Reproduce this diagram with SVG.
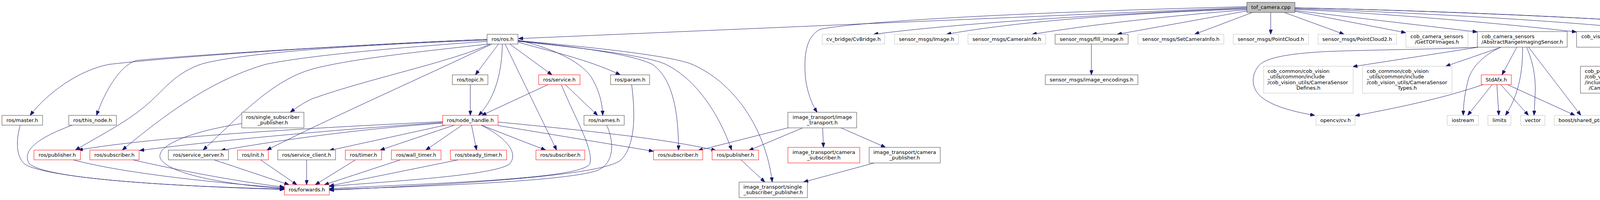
<svg xmlns="http://www.w3.org/2000/svg" width="4756" height="513" viewBox="0 0 4756 513">
<style>
rect{fill:#fff;stroke-width:1}
.d{stroke:#404040}.g{stroke:#bfbfbf}.r{stroke:#ff0000}.t{fill:#bfbfbf;stroke:#404040}
text{font-family:"DejaVu Sans","Liberation Sans",sans-serif;font-size:13px;fill:#000}
.m{text-anchor:middle}
#edges path{fill:none;stroke:#191970;stroke-width:1;marker-end:url(#a)}
</style>
<defs><marker id="a" viewBox="0 0 12 9" refX="12" refY="4.5" markerWidth="12" markerHeight="9" markerUnits="userSpaceOnUse" orient="auto"><path d="M0,0 L12,4.5 L0,9 z" fill="#191970" stroke="#191970" stroke-width="1"/></marker></defs>
<rect x="0" y="0" width="4756" height="513" style="fill:#fff;stroke:none"/>
<g id="edges">
<path d="M3192,19 L1327,99"/>
<path d="M3192,17 C2600,32 2200,55 2100,75 C2060,95 2058,150 2062,200 C2067,240 2080,270 2092,288"/>
<path d="M3192,21 C2800,38 2450,60 2236,88"/>
<path d="M3192,23 C2900,33 2600,55 2423,88"/>
<path d="M3192,25 C3000,40 2800,62 2642,88"/>
<path d="M3192,28 L2860,88"/>
<path d="M3206,32 L3058,88"/>
<path d="M3253,32 L3253,88"/>
<path d="M3288,32 L3441,88"/>
<path d="M3315,29 L3599,84"/>
<path d="M3315,27 L3782,82"/>
<path d="M3315,24 C3500,32 3800,55 4036,82"/>
<path d="M3315,22 C3700,35 4100,60 4325,88"/>
<path d="M3315,20 C3800,30 4300,55 4604,88"/>
<path d="M3315,20 C3800,30 4300,58 4480,74 C4530,80 4570,140 4588,192"/>
<path d="M2794,113 L2794,192"/>
<path d="M3785,121 C3700,126 3500,128 3400,132 C3300,137 3240,148 3223,168 C3200,195 3205,228 3228,248 C3260,275 3320,288 3366,296"/>
<path d="M3785,121 L3463,171"/>
<path d="M3843,121 L3701,170"/>
<path d="M3842,121 C3800,140 3770,170 3760,200 C3750,235 3746,270 3746,296"/>
<path d="M3883,121 L3845,192"/>
<path d="M3898,121 C3898,180 3890,240 3854,296"/>
<path d="M3908,121 C3925,160 3932,200 3930,240 C3929,262 3928,282 3927,296"/>
<path d="M3913,121 L4047,296"/>
<path d="M3797,217 C3700,250 3600,272 3469,297"/>
<path d="M3820,217 L3757,296"/>
<path d="M3832,217 L3837,296"/>
<path d="M3842,217 L3913,296"/>
<path d="M3859,217 L4032,296"/>
<path d="M4148,121 L4144,170"/>
<path d="M4188,121 L4287,170"/>
<path d="M4416,113 L4568,192"/>
<path d="M2106,328 L2108,378"/>
<path d="M2153,328 L2267,378"/>
<path d="M2017,328 L1787,386"/>
<path d="M2055,328 L1917,386"/>
<path d="M2238,418 L2057,467"/>
<path d="M1897,410 L1958,467"/>
<path d="M1276,113 L1217,192"/>
<path d="M1286,113 C1285,180 1270,250 1225,296"/>
<path d="M1293,113 L1425,385"/>
<path d="M1305,113 L1413,192"/>
<path d="M1326,108 C1400,130 1500,150 1588,192"/>
<path d="M1326,103 C1420,125 1490,160 1515,200 C1535,235 1542,265 1543,296"/>
<path d="M1326,105 C1480,120 1620,140 1670,165 C1720,200 1737,280 1737,385"/>
<path d="M1326,106 C1480,122 1640,140 1700,163 C1780,200 1840,290 1873,385"/>
<path d="M1326,104 C1500,120 1700,140 1767,163 C1880,210 1960,330 1977,467"/>
<path d="M1247,101 C1000,110 500,140 280,165 C200,180 120,240 77,296"/>
<path d="M1247,101 C1000,110 500,140 350,155 C310,165 270,230 247,296"/>
<path d="M1247,103 C1000,112 650,130 520,163 C450,185 420,230 380,265 C330,310 260,345 193,385"/>
<path d="M1247,106 C1050,120 800,140 680,165 C560,200 450,270 313,385"/>
<path d="M1250,113 C1100,130 900,150 800,177 C700,205 620,290 520,385"/>
<path d="M1255,113 C1150,160 950,200 800,253 C780,262 760,275 743,288"/>
<path d="M1259,113 C1100,190 850,300 683,385"/>
<path d="M1133,312 C800,328 400,350 200,385"/>
<path d="M1133,314 C900,330 600,355 357,386"/>
<path d="M1133,316 C1000,325 800,345 565,386"/>
<path d="M1140,321 L843,386"/>
<path d="M1163,321 L973,385"/>
<path d="M1183,321 L1090,385"/>
<path d="M1207,321 L1220,385"/>
<path d="M1232,321 L1397,385"/>
<path d="M1232,321 C1290,350 1330,390 1305,420 C1270,450 1000,465 843,478"/>
<path d="M1275,313 C1500,335 1700,355 1833,386"/>
<path d="M1275,322 L1673,388"/>
<path d="M1403,217 L1233,296"/>
<path d="M1447,217 L1530,296"/>
<path d="M1437,217 C1470,300 1520,380 1510,420 C1490,460 1100,470 843,484"/>
<path d="M1204,217 L1204,296"/>
<path d="M1553,321 C1575,370 1570,420 1530,437 C1450,465 1100,478 843,486"/>
<path d="M1617,217 C1625,280 1630,370 1590,410 C1540,455 1100,475 843,488"/>
<path d="M52,321 C40,360 40,410 70,425 C150,460 450,478 728,486"/>
<path d="M185,321 C120,345 50,380 75,420 C120,460 450,478 728,485"/>
<path d="M187,410 C300,440 500,465 728,482"/>
<path d="M340,410 C450,435 600,465 728,480"/>
<path d="M619,317 C500,335 400,370 410,405 C430,450 600,475 728,484"/>
<path d="M548,410 L740,474"/>
<path d="M667,410 L760,474"/>
<path d="M785,410 L785,474"/>
<path d="M910,410 L807,474"/>
<path d="M1025,410 L830,474"/>
<path d="M1173,410 L843,477"/>
</g>
<g id="tof_camera"><rect class="t" x="3192" y="6" width="123" height="26"/><text class="m" x="3253.5" y="23">tof_camera.cpp</text></g>
<g id="ros_ros"><rect class="d" x="1247" y="88" width="79" height="25"/><text class="m" x="1286.5" y="105">ros/ros.h</text></g>
<g id="cvbridge"><rect class="g" x="2105" y="88" width="160" height="25"/><text class="m" x="2185" y="105">cv_bridge/CvBridge.h</text></g>
<g id="image"><rect class="g" x="2290" y="88" width="164" height="25"/><text class="m" x="2372" y="105">sensor_msgs/Image.h</text></g>
<g id="camerainfo"><rect class="g" x="2478" y="88" width="199" height="25"/><text class="m" x="2577.5" y="105">sensor_msgs/CameraInfo.h</text></g>
<g id="fill_image"><rect class="d" x="2701" y="88" width="187" height="25"/><text class="m" x="2794.5" y="105">sensor_msgs/fill_image.h</text></g>
<g id="setcamerainfo"><rect class="g" x="2913" y="88" width="220" height="25"/><text class="m" x="3023" y="105">sensor_msgs/SetCameraInfo.h</text></g>
<g id="pointcloud"><rect class="g" x="3157" y="88" width="193" height="25"/><text class="m" x="3253.5" y="105">sensor_msgs/PointCloud.h</text></g>
<g id="pointcloud2"><rect class="g" x="3374" y="88" width="201" height="25"/><text class="m" x="3474.5" y="105">sensor_msgs/PointCloud2.h</text></g>
<g id="gettofimages"><rect class="g" x="3599" y="81" width="159" height="40"/><text class="m" x="3678.5" y="97.5">cob_camera_sensors</text><text class="m" x="3678.5" y="111.5">/GetTOFImages.h</text></g>
<g id="aris"><rect class="d" x="3782" y="81" width="230" height="40"/><text x="3793" y="97.5">cob_camera_sensors</text><text class="m" x="3897" y="111.5">/AbstractRangeImagingSensor.h</text></g>
<g id="toolbox"><rect class="d" x="4036" y="81" width="226" height="40"/><text class="m" x="4149" y="97.5">cob_vision_utils/CameraSensor</text><text class="m" x="4149" y="111.5">Toolbox.h</text></g>
<g id="visionutils"><rect class="d" x="4286" y="88" width="212" height="25"/><text class="m" x="4392" y="105">cob_vision_utils/VisionUtils.h</text></g>
<g id="mutex"><rect class="g" x="4572" y="88" width="179" height="25"/><text class="m" x="4661.5" y="105">boost/thread/mutex.hpp</text></g>
<g id="topic"><rect class="d" x="1158" y="192" width="91" height="25"/><text class="m" x="1203.5" y="209">ros/topic.h</text></g>
<g id="service"><rect class="r" x="1379" y="192" width="106" height="25"/><text class="m" x="1432" y="209">ros/service.h</text></g>
<g id="param"><rect class="d" x="1563" y="192" width="100" height="25"/><text class="m" x="1613" y="209">ros/param.h</text></g>
<g id="image_encodings"><rect class="d" x="2676" y="192" width="237" height="25"/><text class="m" x="2794.5" y="209">sensor_msgs/image_encodings.h</text></g>
<g id="stdafx"><rect class="r" x="3792" y="192" width="77" height="25"/><text class="m" x="3830.5" y="209">StdAfx.h</text></g>
<g id="globaldefines"><rect class="d" x="4476" y="192" width="235" height="25"/><text class="m" x="4593.5" y="209">cob_vision_utils/GlobalDefines.h</text></g>
<g id="cc_defines"><rect class="g" x="3235" y="170" width="229" height="69"/><text x="3245" y="186.5">cob_common/cob_vision</text><text x="3245" y="201">_utils/common/include</text><text x="3245" y="215.5">/cob_vision_utils/CameraSensor</text><text class="m" x="3349.5" y="230">Defines.h</text></g>
<g id="cc_types"><rect class="g" x="3488" y="170" width="229" height="69"/><text x="3499" y="186.5">cob_common/cob_vision</text><text x="3499" y="201">_utils/common/include</text><text x="3499" y="215.5">/cob_vision_utils/CameraSensor</text><text class="m" x="3602.5" y="230">Types.h</text></g>
<g id="cp_types"><rect class="d" x="4046" y="170" width="191" height="69"/><text x="4057" y="186.5">cob_perception_common</text><text x="4057" y="201">/cob_vision_utils/common</text><text x="4057" y="215.5">/include/cob_vision_utils</text><text class="m" x="4141.5" y="230">/CameraSensorTypes.h</text></g>
<g id="cp_defines"><rect class="d" x="4260" y="170" width="191" height="69"/><text x="4271" y="186.5">cob_perception_common</text><text x="4271" y="201">/cob_vision_utils/common</text><text x="4271" y="215.5">/include/cob_vision_utils</text><text class="m" x="4355.5" y="230">/CameraSensorDefines.h</text></g>
<g id="ros_ssp"><rect class="d" x="619" y="288" width="159" height="40"/><text class="m" x="698.5" y="305">ros/single_subscriber</text><text class="m" x="698.5" y="319">_publisher.h</text></g>
<g id="image_transport"><rect class="d" x="2017" y="288" width="176" height="40"/><text class="m" x="2105" y="305">image_transport/image</text><text class="m" x="2105" y="319">_transport.h</text></g>
<g id="master"><rect class="d" x="5" y="296" width="104" height="25"/><text class="m" x="57" y="313">ros/master.h</text></g>
<g id="this_node"><rect class="d" x="176" y="296" width="122" height="25"/><text class="m" x="237" y="313">ros/this_node.h</text></g>
<g id="node_handle"><rect class="r" x="1133" y="296" width="142" height="25"/><text class="m" x="1204" y="313">ros/node_handle.h</text></g>
<g id="names"><rect class="d" x="1495" y="296" width="103" height="25"/><text class="m" x="1546.5" y="313">ros/names.h</text></g>
<g id="cv"><rect class="g" x="3369" y="296" width="100" height="25"/><text class="m" x="3419" y="313">opencv/cv.h</text></g>
<g id="iostream"><rect class="g" x="3705" y="296" width="80" height="25"/><text class="m" x="3745" y="313">iostream</text></g>
<g id="limits"><rect class="g" x="3809" y="296" width="59" height="25"/><text class="m" x="3838.5" y="313">limits</text></g>
<g id="vector"><rect class="g" x="3893" y="296" width="62" height="25"/><text class="m" x="3924" y="313">vector</text></g>
<g id="shared_ptr"><rect class="g" x="3979" y="296" width="159" height="25"/><text class="m" x="4058.5" y="313">boost/shared_ptr.hpp</text></g>
<g id="camera_subscriber"><rect class="r" x="2017" y="378" width="184" height="40"/><text class="m" x="2109" y="395">image_transport/camera</text><text class="m" x="2109" y="409">_subscriber.h</text></g>
<g id="camera_publisher"><rect class="d" x="2225" y="378" width="182" height="40"/><text class="m" x="2316" y="395">image_transport/camera</text><text class="m" x="2316" y="409">_publisher.h</text></g>
<g id="publisher_l"><rect class="r" x="87" y="385" width="119" height="25"/><text class="m" x="146.5" y="402">ros/publisher.h</text></g>
<g id="subscriber_l"><rect class="r" x="230" y="385" width="126" height="25"/><text class="m" x="293" y="402">ros/subscriber.h</text></g>
<g id="service_server"><rect class="d" x="431" y="385" width="154" height="25"/><text class="m" x="508" y="402">ros/service_server.h</text></g>
<g id="init"><rect class="r" x="608" y="385" width="79" height="25"/><text class="m" x="647.5" y="402">ros/init.h</text></g>
<g id="service_client"><rect class="d" x="711" y="385" width="148" height="25"/><text class="m" x="785" y="402">ros/service_client.h</text></g>
<g id="timer"><rect class="r" x="884" y="385" width="93" height="25"/><text class="m" x="930.5" y="402">ros/timer.h</text></g>
<g id="wall_timer"><rect class="r" x="1002" y="385" width="127" height="25"/><text class="m" x="1065.5" y="402">ros/wall_timer.h</text></g>
<g id="steady_timer"><rect class="r" x="1153" y="385" width="144" height="25"/><text class="m" x="1225" y="402">ros/steady_timer.h</text></g>
<g id="subscriber_m"><rect class="r" x="1372" y="385" width="125" height="25"/><text class="m" x="1434.5" y="402">ros/subscriber.h</text></g>
<g id="subscriber_r"><rect class="r" x="1673" y="385" width="126" height="25"/><text class="m" x="1736" y="402">ros/subscriber.h</text></g>
<g id="publisher_r"><rect class="r" x="1823" y="385" width="119" height="25"/><text class="m" x="1882.5" y="402">ros/publisher.h</text></g>
<g id="forwards"><rect class="r" x="728" y="474" width="115" height="26"/><text class="m" x="785.5" y="491">ros/forwards.h</text></g>
<g id="it_ssp"><rect class="d" x="1892" y="467" width="175" height="40"/><text x="1903" y="484">image_transport/single</text><text class="m" x="1979.5" y="498">_subscriber_publisher.h</text></g>
</svg>
